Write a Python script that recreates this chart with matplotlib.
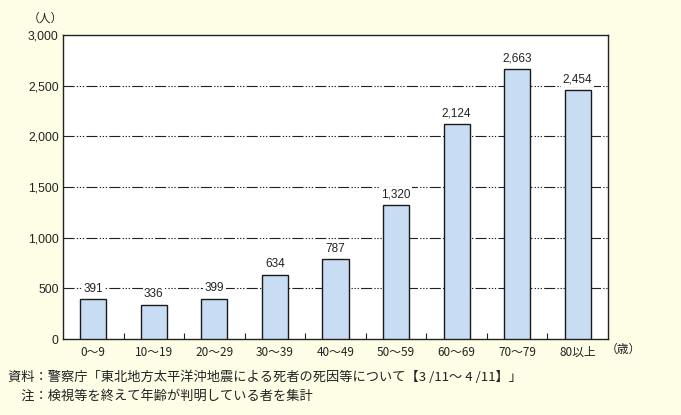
import matplotlib
matplotlib.use("Agg")
import matplotlib.pyplot as plt

plt.rcParams['font.family'] = ['Noto Sans CJK JP', 'DejaVu Sans']

categories = ["0〜9", "10〜19", "20〜29", "30〜39", "40〜49", "50〜59", "60〜69", "70〜79", "80以上"]
values = [391, 336, 399, 634, 787, 1320, 2124, 2663, 2454]
yticks = [0, 500, 1000, 1500, 2000, 2500, 3000]
ytick_labels = ["0", "500", "1,000", "1,500", "2,000", "2,500", "3,000"]
note1 = "資料：警察庁「東北地方太平洋沖地震による死者の死因等について【3 /11〜 4 /11】」"
note2 = "　注：検視等を終えて年齢が判明している者を集計"

bg = "#FEFDE5"
num_font = ["Liberation Sans Narrow", "Liberation Sans", "DejaVu Sans"]
fig = plt.figure(figsize=(6.81, 4.15), dpi=100, facecolor=bg)
ax = fig.add_axes([63/681, 1-339/415, 545/681, 304/415])
ax.set_facecolor("white")

x = list(range(len(categories)))
ax.bar(x, values, width=0.43, color="#C8DDF3", edgecolor="#1a1a1a", linewidth=1.0, zorder=3)
ax.set_xlim(-0.5, len(categories) - 0.5)
ax.set_ylim(0, 3000)

for yv in yticks[1:-1]:
    ax.axhline(yv, color="#222222", linewidth=0.8, dashes=(10, 2, 1.2, 1.5, 1.2, 1.5, 1.2, 2), zorder=1)

for xi, v in zip(x, values):
    ax.text(xi, v + 45, f"{v:,}", ha="center", va="bottom", fontsize=8.5,
            family=num_font, color="#222222", zorder=4,
            bbox=dict(facecolor="white", edgecolor="none", pad=1.0))

ax.set_yticks(yticks)
ax.set_yticklabels(ytick_labels, fontsize=8.8, family=num_font, color="#222222")
ax.set_xticks(x)
ax.set_xticklabels(categories, fontsize=8.5, color="#222222")
ax.tick_params(axis="x", length=0, pad=5)
ax.tick_params(axis="y", length=0, pad=3)
ax.set_xticks([i + 0.5 for i in x[:-1]], minor=True)
ax.tick_params(axis="x", which="minor", direction="in", length=4, width=0.8, color="#222222")
for s in ax.spines.values():
    s.set_color("#222222")
    s.set_linewidth(1.0)

fig.text(45/681, 1-18/415, "（人）", fontsize=8.5, ha="center", va="center", color="#222222")
fig.text(623/681, 1-349/415, "（歳）", fontsize=8.5, ha="center", va="center", color="#222222")
fig.text(8/681, 1-377/415, note1, fontsize=9.5, ha="left", va="center", color="#222222")
fig.text(8/681, 1-396/415, note2, fontsize=9.5, ha="left", va="center", color="#222222")

fig.savefig("out.png", dpi=100, facecolor=bg)
